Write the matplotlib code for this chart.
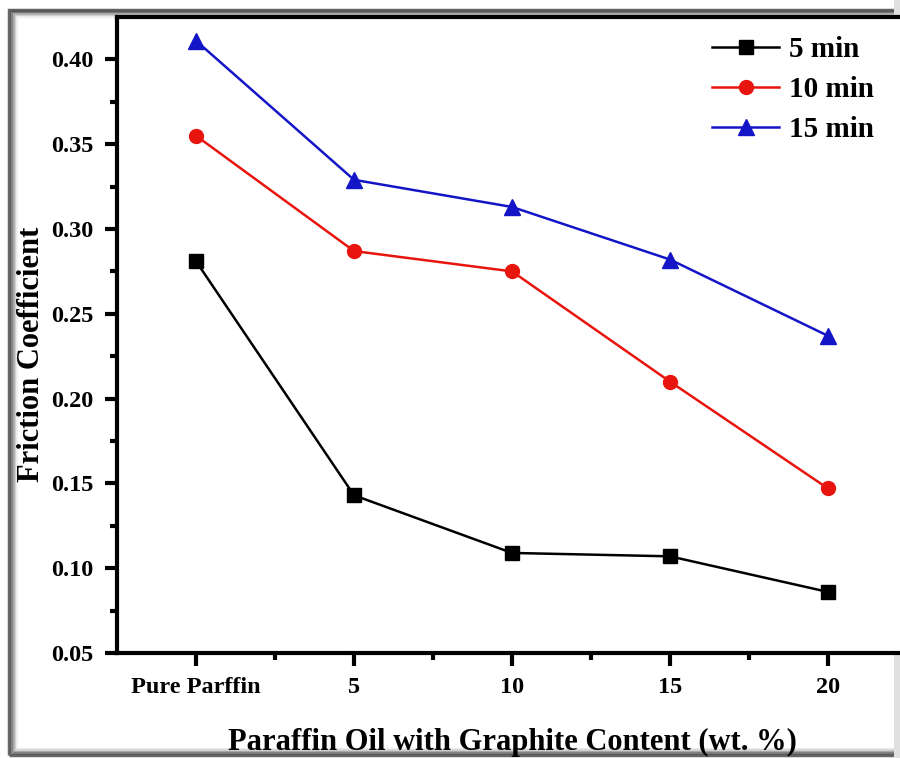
import matplotlib.pyplot as plt
from matplotlib.patches import Rectangle
import numpy as np

plt.rcParams['font.family'] = 'Liberation Serif'
plt.rcParams['font.weight'] = 'bold'
plt.rcParams['axes.labelweight'] = 'bold'

categories = ["Pure Parffin", "5", "10", "15", "20"]
t5 = [0.281, 0.143, 0.109, 0.107, 0.086]
t10 = [0.355, 0.287, 0.275, 0.210, 0.147]
t15 = [0.411, 0.329, 0.313, 0.282, 0.237]

fig = plt.figure(figsize=(9, 7.58), dpi=100)
# shaded frame round the picture, kept under the axes
for i, a in enumerate([0.85, 0.55, 0.3, 0.15, 0.07]):
    fig.patches.append(Rectangle((0.01 + i*0.002, 0.004 + i*0.002),
                                 1.2, 0.983 - i*0.004,
                                 transform=fig.transFigure, fill=False, zorder=-2,
                                 edgecolor=(0.3, 0.3, 0.3), alpha=a, lw=2.5))
fig.patches.append(Rectangle((0.993, 0.0), 0.01, 1.0, transform=fig.transFigure,
                             color=(0.88, 0.88, 0.88), lw=0, zorder=-2))

ax = fig.add_axes([117/900, 1 - 653/758, 790/900, (653-17)/758])
x = np.arange(len(categories))
ax.plot(x, t5, '-s', color='black', lw=1.8, ms=9.5, label='5 min')
ax.plot(x, t10, '-o', color='#e8140e', mec='#e8140e', lw=1.8, ms=10, label='10 min')
ax.plot(x, t15, '-^', color='#1515c8', mec='#1515c8', lw=1.8, ms=11, label='15 min')

ax.set_xlim(-0.5, 4.5)
ax.set_ylim(0.05, 0.425)
ax.set_xticks(x)
ax.set_xticklabels(categories)
ax.set_xticks(x[:-1] + 0.5, minor=True)
ax.set_yticks(np.arange(0.05, 0.41, 0.05))
ax.set_yticks(np.arange(0.075, 0.42, 0.05), minor=True)
ax.yaxis.set_major_formatter(plt.FormatStrFormatter('%.2f'))
for s in ax.spines.values():
    s.set_linewidth(3)
ax.spines['right'].set_visible(False)
ax.tick_params(which='major', direction='out', length=9, width=3, labelsize=17.5, pad=8)
ax.tick_params(which='minor', direction='out', length=5, width=3)

ax.set_xlabel('Paraffin Oil with Graphite Content (wt. %)', fontsize=22, labelpad=22)
ax.set_ylabel('Friction Coefficient', fontsize=22)
ax.yaxis.set_label_coords(-0.09, 0.47)

ax.legend(loc='upper left', bbox_to_anchor=(712/900, 1 - 36/758),
          bbox_transform=fig.transFigure, frameon=False, borderpad=0,
          borderaxespad=0, fontsize=21, handlelength=2.3, handletextpad=0.35,
          labelspacing=0.45)

fig.savefig('out.png', dpi=100)
